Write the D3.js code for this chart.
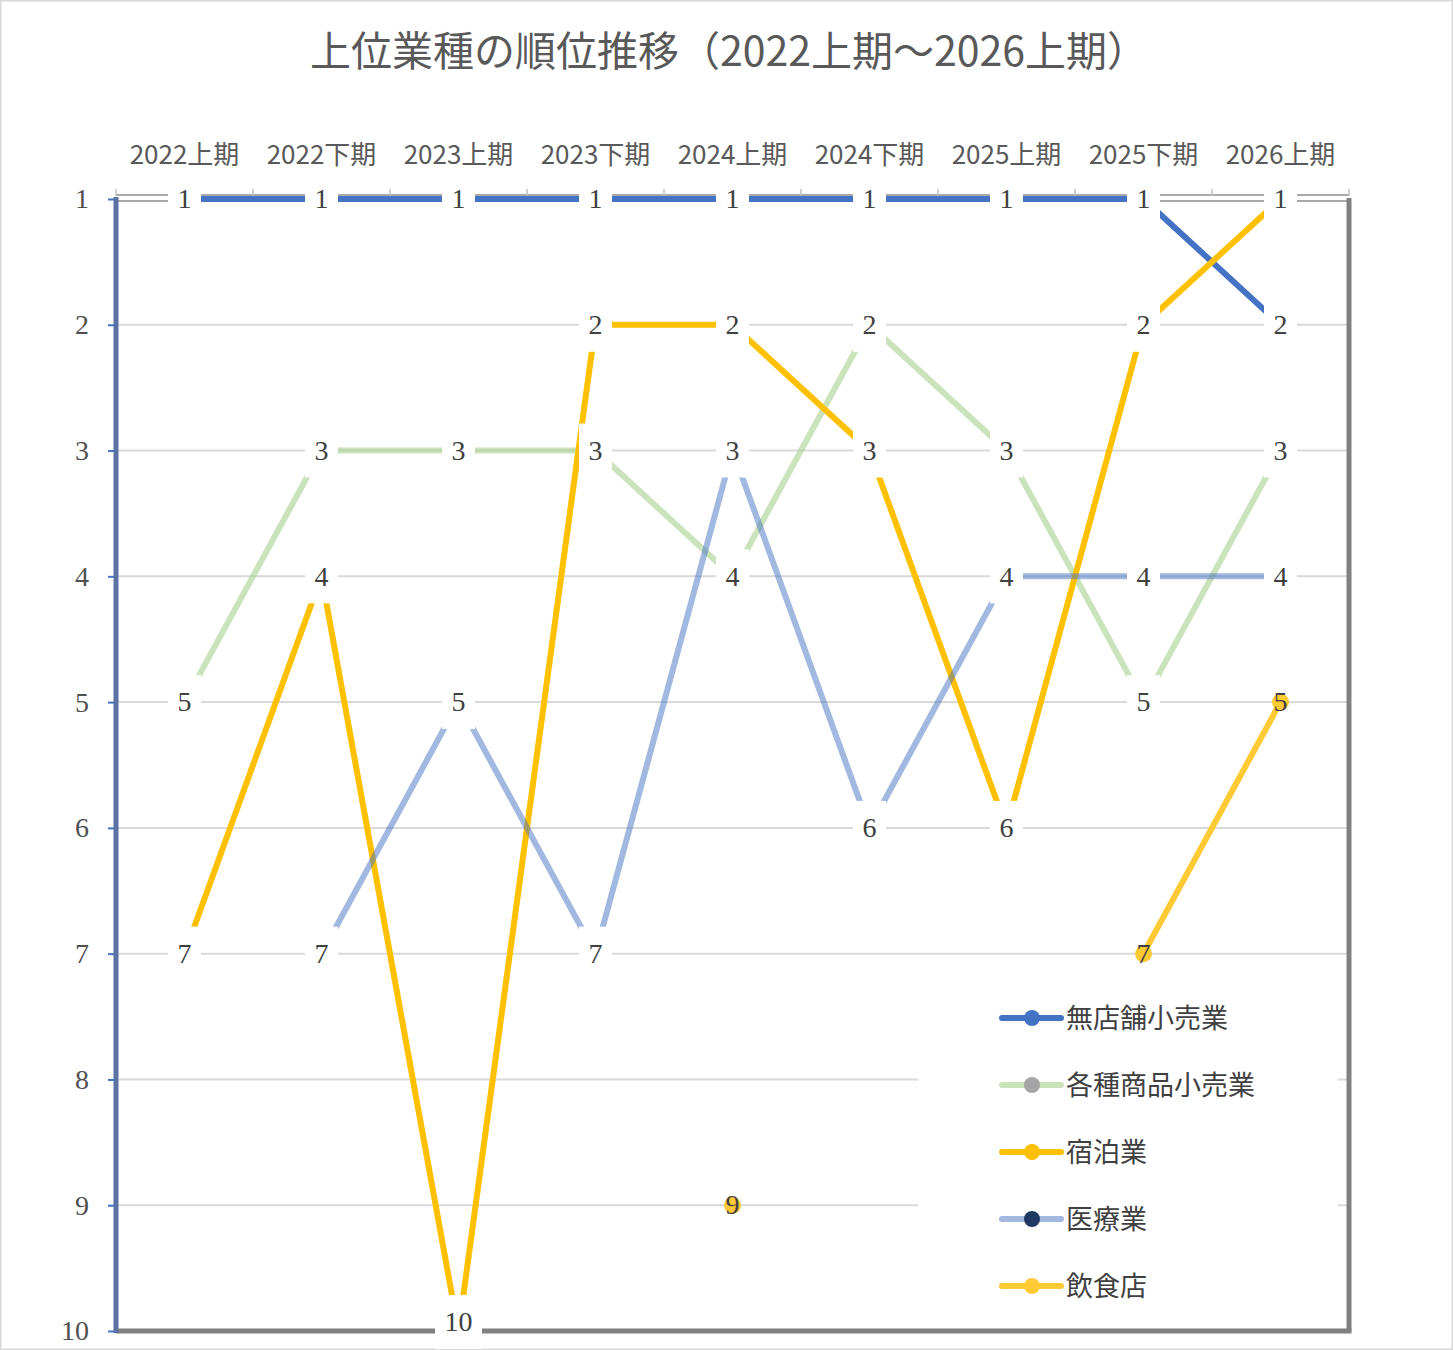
<!DOCTYPE html>
<html>
<head>
<meta charset="utf-8">
<script src="https://cdn.jsdelivr.net/npm/d3@7"></script>
<style>
  body { margin: 0; background: #fff; }
  svg { display: block; }
</style>
</head>
<body>
<div id="chart"></div>
<script>
var periods = ["2022上期","2022下期","2023上期","2023下期","2024上期","2024下期","2025上期","2025下期","2026上期"];
var rankTicks = [1,2,3,4,5,6,7,8,9,10];

var mutenpo  = [1,1,1,1,1,1,1,1,2];
var kakushu  = [5,3,3,3,4,2,3,5,3];
var shukuhaku = [7,4,10,2,2,3,6,2,1];
var iryo     = [null,7,5,7,3,6,4,4,4];
var inshoku  = [null,null,null,null,9,null,null,7,5];

var seriesNames = ["無店舗小売業","各種商品小売業","宿泊業","医療業","飲食店"];
var seriesValues = [mutenpo, kakushu, shukuhaku, iryo, inshoku];
var lineColors = ["#4472C4","rgba(169,209,142,0.6)","#FFC000","rgba(68,114,196,0.5)","#FFCA33"];
var markerColors = ["#4472C4","#A5A5A5","#FFC000","#1F3864","#FFCA33"];
var legendLineColors = ["#4472C4","#CBE3BB","#FFC000","#A2B8E1","#FFCA33"];

function init(){
    var w = 1453;
    var h = 1350;
    var left = 116, right = 1349, top = 199, bottom = 1331;

    var xScale = d3.scaleBand()
        .domain(periods)
        .range([left, right]);

    var yScale = d3.scaleLinear()
        .domain([1, 10])
        .range([top, bottom]);

    var cx = function(i){ return xScale(periods[i]) + xScale.bandwidth()/2; };

    var svg = d3.select("#chart")
        .append("svg")
        .attr("width", w)
        .attr("height", h);

    svg.append("rect")
        .attr("x", 0.75).attr("y", 0.75)
        .attr("width", w - 1.5).attr("height", h - 1.5)
        .attr("fill", "#fff")
        .attr("stroke", "#d9d9d9")
        .attr("stroke-width", 1.5);

    // title
    svg.append("text")
        .attr("x", 729)
        .attr("y", 66)
        .attr("text-anchor", "middle")
        .attr("font-family", "'Noto Sans CJK JP', sans-serif")
        .attr("font-size", 41)
        .attr("fill", "#595959")
        .text("上位業種の順位推移（2022上期～2026上期）");

    // gridlines
    svg.append("g")
        .selectAll("line")
        .data(rankTicks.slice(1, 9))
        .enter()
        .append("line")
        .attr("x1", left).attr("x2", right)
        .attr("y1", function(d){ return yScale(d); })
        .attr("y2", function(d){ return yScale(d); })
        .attr("stroke", "#d9d9d9")
        .attr("stroke-width", 2);

    // top category axis (double line + boundary ticks)
    var topAxis = svg.append("g");
    [top - 4, top + 2].forEach(function(yy){
        topAxis.append("line")
            .attr("x1", left).attr("x2", right)
            .attr("y1", yy).attr("y2", yy)
            .attr("stroke", "#8c8c8c")
            .attr("stroke-width", 1.6);
    });
    topAxis.selectAll("line.tk")
        .data(d3.range(periods.length + 1))
        .enter()
        .append("line")
        .attr("class", "tk")
        .attr("x1", function(i){ return left + i * xScale.step(); })
        .attr("x2", function(i){ return left + i * xScale.step(); })
        .attr("y1", top - 10)
        .attr("y2", top - 3)
        .attr("stroke", "#bfbfbf")
        .attr("stroke-width", 1.5);

    var xAxis = svg.append("g")
        .attr("transform", "translate(0," + top + ")")
        .call(d3.axisTop(xScale).tickSize(0).tickPadding(35));
    xAxis.select(".domain").remove();
    xAxis.selectAll("text")
        .attr("font-family", "'Noto Sans CJK JP', sans-serif")
        .attr("font-size", 26)
        .attr("fill", "#595959");

    // series lines
    var line = d3.line()
        .defined(function(d){ return d != null; })
        .x(function(d, i){ return cx(i); })
        .y(function(d){ return yScale(d); });

    seriesValues.forEach(function(vals, s){
        svg.append("path")
            .datum(vals)
            .attr("d", line)
            .attr("fill", "none")
            .attr("stroke", lineColors[s])
            .attr("stroke-width", 6)
            .attr("stroke-linejoin", "round");
    });

    // visible markers (飲食店)
    svg.append("g")
        .selectAll("circle")
        .data(inshoku.map(function(d, i){ return {v: d, i: i}; }).filter(function(d){ return d.v != null; }))
        .enter()
        .append("circle")
        .attr("cx", function(d){ return cx(d.i); })
        .attr("cy", function(d){ return yScale(d.v); })
        .attr("r", 8.5)
        .attr("fill", markerColors[4]);

    // value axis on the left (reversed ranks)
    var yAxis = svg.append("g")
        .attr("transform", "translate(" + left + ",0)")
        .call(d3.axisLeft(yScale).tickValues(rankTicks).tickSize(8).tickPadding(19).tickFormat(d3.format("d")));
    yAxis.select(".domain").remove();
    yAxis.selectAll(".tick line")
        .attr("stroke", "#4472C4")
        .attr("stroke-width", 2);
    yAxis.selectAll("text")
        .attr("font-family", "'Liberation Serif', serif")
        .attr("font-size", 28)
        .attr("fill", "#505050");

    // plot frame
    svg.append("line")
        .attr("x1", left).attr("x2", right + 2.5)
        .attr("y1", bottom).attr("y2", bottom)
        .attr("stroke", "#808080").attr("stroke-width", 5);
    svg.append("line")
        .attr("x1", right).attr("x2", right)
        .attr("y1", top - 1).attr("y2", bottom)
        .attr("stroke", "#808080").attr("stroke-width", 5);
    svg.append("line")
        .attr("x1", left).attr("x2", left)
        .attr("y1", top - 2).attr("y2", bottom + 2)
        .attr("stroke", "#5B72A4").attr("stroke-width", 5);

    // legend
    var legend = svg.append("g");
    legend.append("rect")
        .attr("x", 918).attr("y", 985)
        .attr("width", 420).attr("height", 335)
        .attr("fill", "#fff");
    var items = legend.selectAll("g.item")
        .data(seriesNames)
        .enter()
        .append("g")
        .attr("class", "item")
        .attr("transform", function(d, i){ return "translate(0," + (1018 + i * 67) + ")"; });
    items.append("line")
        .attr("x1", 1002).attr("x2", 1061)
        .attr("y1", 0).attr("y2", 0)
        .attr("stroke", function(d, i){ return legendLineColors[i]; })
        .attr("stroke-width", 6)
        .attr("stroke-linecap", "round");
    items.append("circle")
        .attr("cx", 1032).attr("cy", 0).attr("r", 8)
        .attr("fill", function(d, i){ return markerColors[i]; });
    items.append("text")
        .attr("x", 1066)
        .attr("y", 0)
        .attr("dy", "0.36em")
        .attr("font-family", "'Noto Sans CJK JP', sans-serif")
        .attr("font-size", 27)
        .attr("fill", "#404040")
        .text(function(d){ return d; });

    // data labels
    var boxHalf = 27;
    var labels = svg.append("g");
    seriesValues.forEach(function(vals, s){
        vals.forEach(function(v, i){
            if (v == null) return;
            var px = cx(i);
            var py = Math.min(yScale(v), h - 1 - boxHalf);
            var g = labels.append("g");
            var t = g.append("text")
                .attr("x", px)
                .attr("y", py)
                .attr("dy", "0.33em")
                .attr("text-anchor", "middle")
                .attr("font-family", "'Liberation Serif', serif")
                .attr("font-size", 28)
                .attr("fill", "#404040")
                .text(v);
            if (s !== 4) {
                var tw = t.node().getComputedTextLength();
                g.insert("rect", "text")
                    .attr("x", px - tw/2 - 9.5)
                    .attr("y", py - boxHalf)
                    .attr("width", tw + 19)
                    .attr("height", boxHalf * 2)
                    .attr("fill", "#fff");
            }
        });
    });
}
window.onload = init;
</script>
</body>
</html>
